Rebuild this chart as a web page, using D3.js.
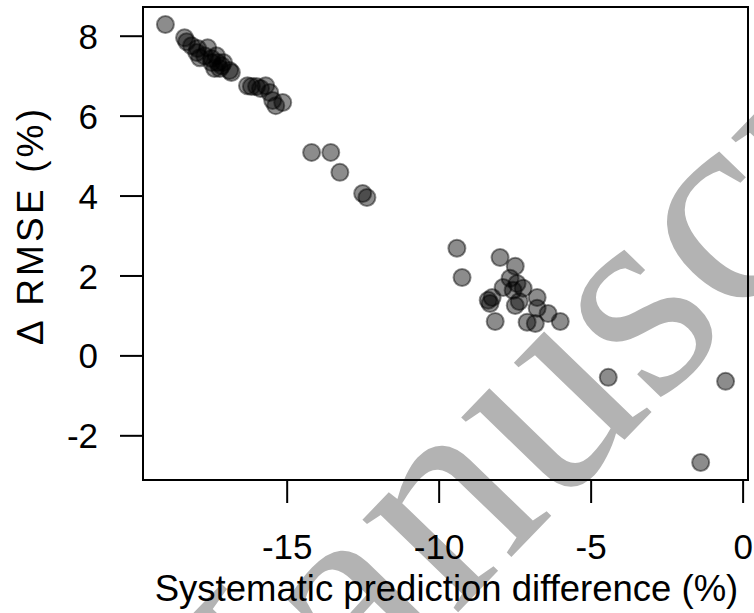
<!DOCTYPE html>
<html><head><meta charset="utf-8">
<script src="https://cdn.jsdelivr.net/npm/d3@7"></script>
<style>body{margin:0;background:#fff}</style>
</head><body>
<svg id="c" width="754" height="613"></svg>
<script>
// Systematic prediction difference (%)
const xVals = [
  -18.99,
  -18.36, -18.29, -18.13, -17.93, -17.60, -17.96, -17.86, -17.70, -17.47, -17.31,
  -17.27, -17.14, -17.37, -17.20, -17.08, -16.88, -16.82, -17.47,
  -16.29, -16.16, -15.99, -15.86, -15.69, -15.56, -15.46, -15.36, -15.13,
  -14.18, -13.55, -13.25, -12.50, -12.36,
  -9.40, -9.23, -7.98, -7.48, -7.65, -7.88, -7.42, -7.22, -7.55, -8.24, -8.37,
  -8.31, -7.48, -7.35, -6.76, -6.76, -6.40, -6.00, -8.14, -7.09, -6.82,
  -4.42, -0.56, -1.38
];
// Delta RMSE (%)
const yVals = [
  8.28,
  7.95, 7.85, 7.75, 7.68, 7.70, 7.58, 7.45, 7.50, 7.43, 7.50,
  7.33, 7.25, 7.18, 7.18, 7.33, 7.13, 7.08, 7.33,
  6.75, 6.73, 6.73, 6.68, 6.75, 6.58, 6.38, 6.25, 6.33,
  5.08, 5.08, 4.58, 4.05, 3.95,
  2.68, 1.95, 2.45, 2.23, 1.93, 1.70, 1.80, 1.68, 1.63, 1.45, 1.38,
  1.30, 1.25, 1.35, 1.45, 1.18, 1.05, 0.85, 0.85, 0.83, 0.80,
  -0.55, -0.65, -2.68
];
const xTicks = [-15, -10, -5, 0];
const yTicks = [-2, 0, 2, 4, 6, 8];
const xTitle = "Systematic prediction difference (%)";
const yTitle = "\u0394 RMSE (%)";
const watermark = "Manuscript";

const svg = d3.select("#c");
const L = 143, R = 748, T = 7, B = 480;

function ext(v) {
  const [a, b] = d3.extent(v);
  const d = (b - a) * 0.04;
  return [a - d, b + d];
}
const x = d3.scaleLinear().domain(ext(xVals)).range([L, R]);
const y = d3.scaleLinear().domain(ext(yVals)).range([B, T]);

// watermark (behind everything)
svg.append("text")
  .attr("transform", "translate(185,895) rotate(-46)")
  .attr("font-family", "Liberation Serif, Times New Roman, serif")
  .attr("font-size", 290)
  .attr("fill", "#b3b3b3")
  .text(watermark);

const font = "Liberation Sans, Arial, Helvetica, sans-serif";
const fmt = d => String(d);

// x axis
const gx = svg.append("g").attr("transform", `translate(0,${B})`)
  .call(d3.axisBottom(x).tickValues(xTicks).tickSize(23).tickFormat(fmt));
gx.select(".domain").remove();
gx.selectAll("line").attr("stroke", "#000").attr("stroke-width", 2);
gx.selectAll("text").attr("y", 79).attr("dy", null)
  .attr("font-family", font).attr("font-size", 35).attr("fill", "#000");

// y axis
const gy = svg.append("g").attr("transform", `translate(${L},0)`)
  .call(d3.axisLeft(y).tickValues(yTicks).tickSize(23).tickFormat(fmt));
gy.select(".domain").remove();
gy.selectAll("line").attr("stroke", "#000").attr("stroke-width", 2);
gy.selectAll("text").attr("x", -45).attr("dy", "0.36em")
  .attr("font-family", font).attr("font-size", 35).attr("fill", "#000");

// box
svg.append("rect").attr("x", L).attr("y", T).attr("width", R - L).attr("height", B - T)
  .attr("fill", "none").attr("stroke", "#000").attr("stroke-width", 2);

// titles
svg.append("text").attr("x", (L + R) / 2 + 1).attr("y", 601)
  .attr("text-anchor", "middle").attr("font-family", font).attr("font-size", 36.5)
  .attr("fill", "#000").text(xTitle);
svg.append("text").attr("transform", "translate(43,345) rotate(-90)")
  .attr("text-anchor", "start").attr("font-family", font).attr("font-size", 37)
  .attr("textLength", 236).attr("lengthAdjust", "spacing")
  .attr("fill", "#000").text(yTitle);

// points
svg.append("g").selectAll("circle")
  .data(xVals.map((v, i) => [v, yVals[i]]))
  .join("circle")
  .attr("cx", d => x(d[0])).attr("cy", d => y(d[1])).attr("r", 8.5)
  .attr("fill", "rgba(0,0,0,0.45)")
  .attr("stroke", "rgba(0,0,0,0.45)").attr("stroke-width", 2);
</script>
</body></html>
